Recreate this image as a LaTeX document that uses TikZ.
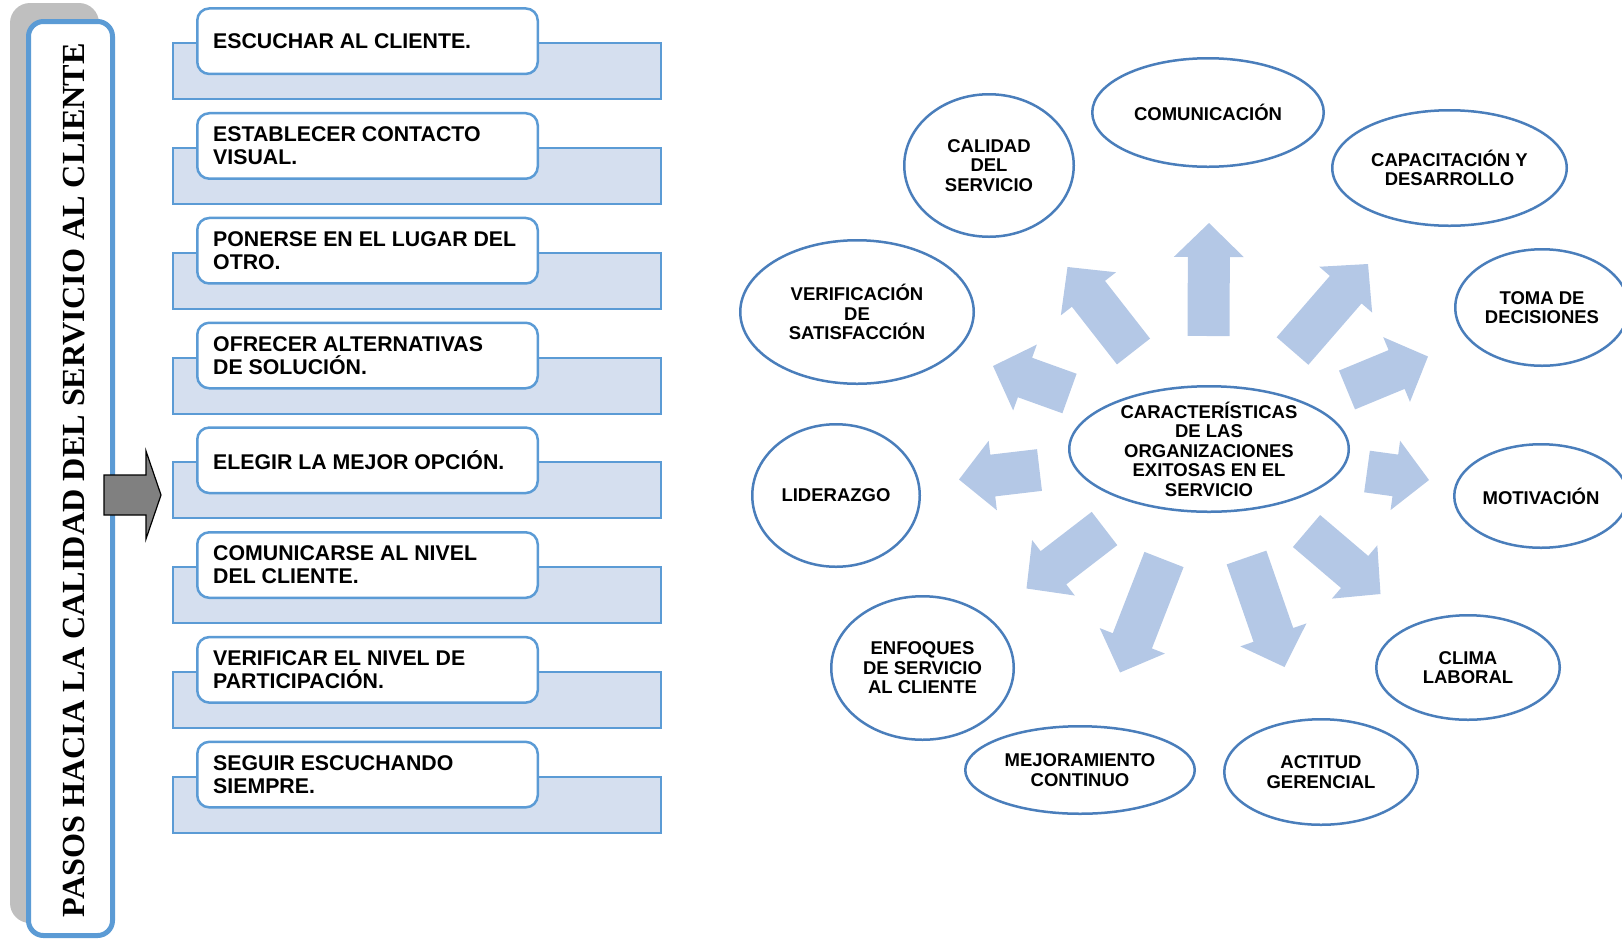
\documentclass[tikz,border=0pt]{standalone}
\usepackage{fontspec}
\setmainfont{Liberation Sans}
\newfontfamily\titlefont{Liberation Serif}
\usetikzlibrary{calc,shapes.geometric}

\definecolor{stepline}{RGB}{91,155,213}
\definecolor{stepfill}{RGB}{213,223,239}
\definecolor{ovalline}{RGB}{74,126,187}
\definecolor{rayfill}{RGB}{180,200,230}
\definecolor{shadowgray}{RGB}{191,191,191}
\definecolor{pointergray}{RGB}{128,128,128}

\tikzset{
  stepbg/.style={draw=stepline, fill=stepfill, line width=2pt,
    minimum width=488pt, minimum height=56pt, inner sep=0pt},
  stepbox/.style={draw=stepline, fill=white, line width=2.5pt, rounded corners=12pt,
    minimum width=340.5pt, minimum height=65.5pt, inner sep=0pt},
  steptext/.style={anchor=west, align=left, inner sep=0pt,
    font=\bfseries\fontsize{21.3}{23}\selectfont},
  ovalshape/.style={ellipse, draw=ovalline, line width=2.5pt, inner sep=0pt},
  ovaltext/.style={align=center, inner sep=0pt,
    font=\bfseries\fontsize{18.5}{19.5}\selectfont},
  ray/.style={fill=rayfill},
}

% ellipse with centred label: name, x, y, rx, ry, text
\newcommand\makeoval[6]{%
  \node[ovalshape, minimum width={2*#4-2.5}, minimum height={2*#5-2.5}] (#1) at (#2,#3) {};
  \node[ovaltext] (#1-txt) at (#1) {#6};
}

% broad block arrow: name, tail point, tip point
\newcommand\blockarrow[3]{%
  \coordinate (#1-t) at (#2);
  \coordinate (#1-h) at (#3);
  \coordinate (#1-b) at ($(#1-h)!34pt!(#1-t)$);
  \fill[ray] ($(#1-t)!21pt!90:(#1-h)$) -- ($(#1-b)!21pt!-90:(#1-t)$)
    -- ($(#1-b)!35pt!-90:(#1-t)$) -- (#1-h) -- ($(#1-b)!35pt!90:(#1-t)$)
    -- ($(#1-b)!21pt!90:(#1-t)$) -- ($(#1-t)!21pt!-90:(#1-h)$) -- cycle;
}

\begin{document}
\begin{tikzpicture}[x=1pt, y=-1pt]
\useasboundingbox (0,0) rectangle (1622,938);

% ---- left column: title panel ----
\node[fill=shadowgray, rounded corners=20pt, minimum width=89pt, minimum height=920pt,
  inner sep=0pt] (shadow) at (54.5,463) {};
\node[draw=stepline, fill=white, line width=5pt, rounded corners=15pt,
  minimum width=84pt, minimum height=914pt, inner sep=0pt] (panel) at (70.5,478.5) {};
\node[rotate=90, inner sep=0pt, font=\titlefont\bfseries\fontsize{32.2}{34}\selectfont]
  (title) at (74.5,480) {PASOS HACIA LA CALIDAD DEL SERVICIO AL CLIENTE};

% pointer arrow
\coordinate (p1) at (104,475);
\coordinate (p2) at (146,475);
\coordinate (p3) at (146,451);
\coordinate (p4) at (161,495);
\coordinate (p5) at (146,539);
\coordinate (p6) at (146,515);
\coordinate (p7) at (104,515);
\draw[fill=pointergray, draw=black, line width=1.2pt, line join=miter]
  (p1) -- (p2) -- (p3) -- (p4) -- (p5) -- (p6) -- (p7) -- cycle;

% ---- steps ----
\foreach \i/\t in {0/{ESCUCHAR AL CLIENTE.},
                   1/{ESTABLECER CONTACTO\\VISUAL.},
                   2/{PONERSE EN EL LUGAR DEL\\OTRO.},
                   3/{OFRECER ALTERNATIVAS\\DE SOLUCIÓN.},
                   4/{ELEGIR LA MEJOR OPCIÓN.},
                   5/{COMUNICARSE AL NIVEL\\DEL CLIENTE.},
                   6/{VERIFICAR EL NIVEL DE\\PARTICIPACIÓN.},
                   7/{SEGUIR ESCUCHANDO\\SIEMPRE.}}{
  \pgfmathsetmacro\yy{7.2+104.77*\i}
  \node[stepbg] (bg\i) at (417,{\yy+64}) {};
  \node[stepbox] (box\i) at (367.5,{\yy+34}) {};
  \node[steptext] (txt\i) at (213,{\yy+34}) {\t};
}

% ---- radiating arrows ----
\blockarrow{a1}{1208.5,336}{1209,223}
\blockarrow{a2}{1133.5,351.5}{1067.5,267}
\blockarrow{a3}{1292.5,351}{1368,264}
\blockarrow{a4}{1069.5,393.5}{993,366}
\blockarrow{a5}{1347,390}{1428,356.5}
\blockarrow{a6}{1039.5,470}{959,479.5}
\blockarrow{a7}{1367,471.5}{1429,480}
\blockarrow{a8}{1104.5,528.5}{1026.5,588.5}
\blockarrow{a9}{1164,559.5}{1120,672.5}
\blockarrow{a10}{1246.5,557.5}{1284.5,667}
\blockarrow{a11}{1306.5,531}{1380.5,594}

% ---- ellipses ----
\makeoval{cen}{1209}{449}{141}{64}{CARACTERÍSTICAS\\DE LAS\\ORGANIZACIONES\\EXITOSAS EN EL\\SERVICIO}
\makeoval{com}{1208}{112.5}{117}{55.5}{COMUNICACIÓN}
\makeoval{cal}{989}{165.5}{86}{72.5}{CALIDAD\\DEL\\SERVICIO}
\makeoval{cap}{1449.5}{168}{118.5}{59}{CAPACITACIÓN Y\\DESARROLLO}
\makeoval{tom}{1542}{307.5}{88}{59.5}{TOMA DE\\DECISIONES}
\makeoval{mot}{1541}{496}{88}{53}{MOTIVACIÓN}
\makeoval{cli}{1468}{667.5}{93}{53.5}{CLIMA\\LABORAL}
\makeoval{act}{1321}{772}{98}{54}{ACTITUD\\GERENCIAL}
\makeoval{mej}{1080}{770}{116}{45}{MEJORAMIENTO\\CONTINUO}
\makeoval{enf}{922.5}{668}{92.5}{73}{ENFOQUES\\DE SERVICIO\\AL CLIENTE}
\makeoval{lid}{836}{495.5}{85}{72.5}{LIDERAZGO}
\makeoval{ver}{857}{312}{118}{73}{VERIFICACIÓN\\DE\\SATISFACCIÓN}

\end{tikzpicture}
\end{document}
